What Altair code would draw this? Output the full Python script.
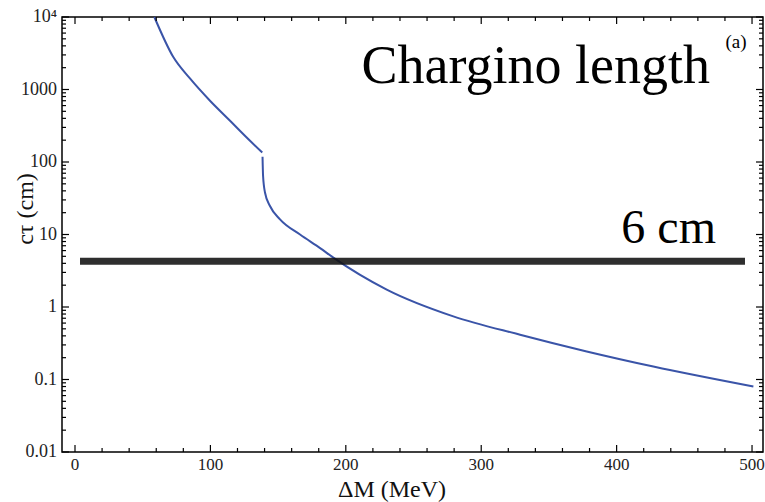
import altair as alt
import pandas as pd

# ---- data ----
branch1_dm = [58.6, 72.6, 84.9, 99.7, 114.5, 126.8, 138.3]
branch1_ct = [10000, 2800, 1420, 700, 371, 218, 135]
branch2_dm = [138.5, 138.9, 140.3, 144.0, 151.4, 166.2, 181.0, 190.8, 230.2, 279.4, 328.7, 377.9, 427.1, 501.0]
branch2_ct = [118, 64, 38, 24.7, 16.2, 10.0, 6.5, 4.8, 1.74, 0.743, 0.415, 0.244, 0.151, 0.080]
band_dm = [3.7, 494.8]
band_ct = [4.29, 4.29]

x_major = [0, 100, 200, 300, 400, 500]
x_labels = ["0", "100", "200", "300", "400", "500"]
x_minor = [v for v in range(0, 501, 20) if v % 100 != 0]
y_major = [0.01, 0.1, 1, 10, 100, 1000, 10000]
y_labels = ["0.01", "0.1", "1", "10", "100", "1000", "10⁴"]
y_minor = [m * d for d in [0.01, 0.1, 1, 10, 100, 1000] for m in range(2, 10)]

W, H = 701, 435
FONT = "Liberation Serif"
BLUE = "#3a54a8"
MAJ, MIN = 7, 4

curve = pd.DataFrame({
    "dm": branch1_dm + branch2_dm,
    "ct": branch1_ct + branch2_ct,
    "seg": ["a"] * len(branch1_dm) + ["b"] * len(branch2_dm),
})
band = pd.DataFrame({"dm": band_dm, "ct": band_ct})

xscale = alt.Scale(domain=[-9.6, 508.1], nice=False, zero=False)
yscale = alt.Scale(type="log", domain=[0.01, 10000], nice=False)


def X(field="dm"):
    return alt.X(f"{field}:Q", scale=xscale, axis=None)


def Y(field="ct"):
    return alt.Y(f"{field}:Q", scale=yscale, axis=None)


main_line = alt.Chart(curve).mark_line(color=BLUE, strokeWidth=2, interpolate="monotone").encode(
    x=X(), y=Y(), detail="seg:N")

band_line = alt.Chart(band).mark_line(color="#111", strokeWidth=7, opacity=0.88).encode(
    x=X(), y=Y())

xt_major = pd.DataFrame({"v": x_major})
xt_minor = pd.DataFrame({"v": x_minor})
yt_major = pd.DataFrame({"v": y_major})
yt_minor = pd.DataFrame({"v": y_minor})
xl_df = pd.DataFrame({"xv": x_major, "lab": x_labels})
yl_df = pd.DataFrame({"yv": y_major, "lab": y_labels})


def xticks(df, size, edge):
    y0 = H if edge == "bottom" else 0
    y1 = H - size if edge == "bottom" else size
    return alt.Chart(df).mark_rule(color="black", strokeWidth=1.2).encode(
        x=X("v"), y=alt.value(y0), y2=alt.value(y1))


def yticks(df, size, edge):
    x0 = 0 if edge == "left" else W
    x1 = size if edge == "left" else W - size
    return alt.Chart(df).mark_rule(color="black", strokeWidth=1.2).encode(
        y=Y("v"), x=alt.value(x0), x2=alt.value(x1))


ticks = [
    xticks(xt_major, MAJ, "bottom"), xticks(xt_minor, MIN, "bottom"),
    xticks(xt_major, MAJ, "top"), xticks(xt_minor, MIN, "top"),
    yticks(yt_major, MAJ, "left"), yticks(yt_minor, MIN, "left"),
    yticks(yt_major, MAJ, "right"), yticks(yt_minor, MIN, "right"),
]

x_tick_labels = alt.Chart(xl_df).mark_text(
    font=FONT, fontSize=17, color="#222", align="center", baseline="top").encode(
    x=X("xv"), y=alt.value(H + 5), text="lab:N")

y_tick_labels = alt.Chart(yl_df).mark_text(
    font=FONT, fontSize=18, color="#222", align="right", baseline="middle").encode(
    y=Y("yv"), x=alt.value(-5), text="lab:N")

x_title = alt.Chart(pd.DataFrame({"t": ["ΔM (MeV)"]})).mark_text(
    font=FONT, fontSize=24, color="#111", align="center", baseline="alphabetic").encode(
    text="t:N", x=alt.value(330), y=alt.value(H + 45))

y_title = alt.Chart(pd.DataFrame({"t": ["cτ (cm)"]})).mark_text(
    font=FONT, fontSize=24, color="#111", align="center", baseline="alphabetic", angle=270).encode(
    text="t:N", x=alt.value(-29), y=alt.value(192))

title_text = alt.Chart(pd.DataFrame({"t": ["Chargino length"]})).mark_text(
    font=FONT, fontSize=54, align="right", baseline="alphabetic", color="black").encode(
    text="t:N", x=alt.value(648), y=alt.value(66))

lbl_a = alt.Chart(pd.DataFrame({"t": ["(a)"]})).mark_text(
    font=FONT, fontSize=19, align="center", baseline="alphabetic", color="black").encode(
    text="t:N", x=alt.value(674), y=alt.value(31))

lbl_6 = alt.Chart(pd.DataFrame({"t": ["6 cm"]})).mark_text(
    font=FONT, fontSize=48, align="right", baseline="alphabetic", color="black").encode(
    text="t:N", x=alt.value(654), y=alt.value(226))

chart = alt.layer(main_line, band_line, x_tick_labels, y_tick_labels, x_title, y_title,
                  title_text, lbl_a, lbl_6, *ticks).properties(
    width=W, height=H,
    background="white",
    autosize=alt.AutoSizeParams(type="none"),
    padding={"left": 62, "top": 17, "right": 2, "bottom": 50},
).configure_view(stroke="black", strokeWidth=1.5)

chart.save("out.html", embed_options={"renderer": "svg", "actions": False})
